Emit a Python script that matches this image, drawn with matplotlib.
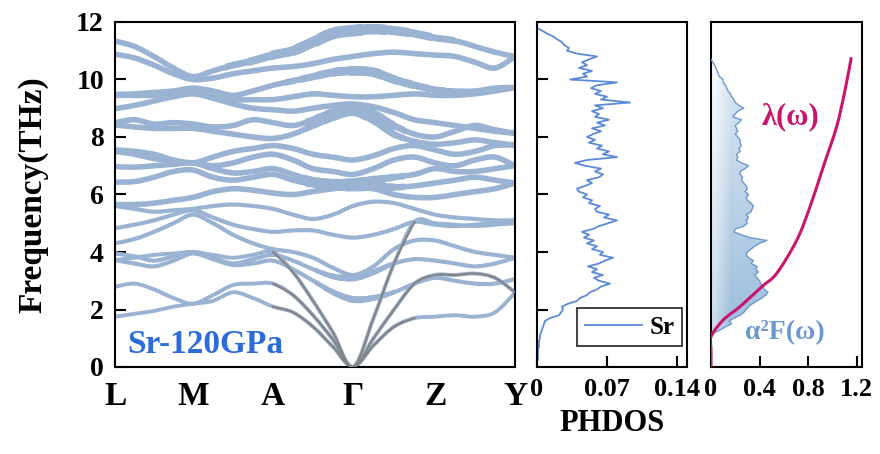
import numpy as np
import matplotlib
matplotlib.use("Agg")
import matplotlib.pyplot as plt
from matplotlib.path import Path
from matplotlib.patches import PathPatch, Polygon, Rectangle
from matplotlib.colors import LinearSegmentedColormap

plt.rcParams['font.family'] = ['Liberation Serif', 'DejaVu Serif']
plt.rcParams['font.weight'] = 'bold'
plt.rcParams['axes.labelweight'] = 'bold'

# ---------------- data ----------------
kpoint_labels = ['L', 'M', 'A', 'Γ', 'Z', 'Y']
kpoint_pos = [0.0, 0.78, 1.58, 2.38, 3.20, 4.00]

# phonon branches (THz), 5 samples per path segment, L -> M -> A -> Γ -> Z -> Y
band_01 = [11.34, 11.15, 10.8, 10.4, 10.1, 10.3, 10.5, 10.65, 10.85, 11.0, 11.3, 11.6, 11.7, 11.75, 11.7, 11.6, 11.45, 11.35, 11.15, 10.95, 10.8]
band_02 = [10.88, 10.75, 10.5, 10.2, 10.0, 10.05, 10.2, 10.3, 10.4, 10.45, 10.55, 10.7, 10.8, 10.9, 10.95, 10.9, 10.85, 10.8, 10.6, 10.4, 10.8]
band_03 = [9.48, 9.5, 9.55, 9.6, 9.7, 9.6, 9.45, 9.6, 9.8, 9.95, 10.1, 10.25, 10.3, 10.25, 10.0, 9.8, 9.65, 9.6, 9.6, 9.7, 9.72]
band_04 = [9.45, 9.45, 9.45, 9.5, 9.55, 9.4, 9.3, 9.3, 9.3, 9.4, 9.5, 9.45, 9.4, 9.4, 9.45, 9.5, 9.45, 9.45, 9.5, 9.6, 9.72]
band_05 = [8.98, 9.1, 9.25, 9.4, 9.5, 9.35, 9.15, 9.0, 8.95, 8.9, 9.0, 9.1, 9.15, 9.05, 8.85, 8.6, 8.5, 8.4, 8.3, 8.2, 8.13]
band_06 = [8.5, 8.6, 8.45, 8.5, 8.45, 8.35, 8.4, 8.6, 8.5, 8.4, 8.6, 8.85, 9.0, 8.8, 8.4, 8.1, 8.0, 8.2, 8.4, 8.25, 8.13]
band_07 = [8.42, 8.35, 8.3, 8.3, 8.3, 8.2, 8.1, 8.0, 7.95, 8.1, 8.4, 8.7, 8.9, 8.6, 8.1, 7.85, 7.75, 7.8, 7.9, 7.8, 7.72]
band_08 = [7.55, 7.5, 7.4, 7.2, 7.1, 7.3, 7.5, 7.6, 7.7, 7.6, 7.4, 7.3, 7.2, 7.35, 7.6, 7.7, 7.55, 7.4, 7.5, 7.7, 7.72]
band_09 = [7.5, 7.4, 7.25, 7.15, 7.1, 7.0, 7.1, 7.3, 7.4, 7.2, 6.9, 6.8, 6.7, 6.9, 7.2, 7.3, 7.1, 7.0, 7.2, 7.3, 7.0]
band_10 = [6.97, 6.95, 7.0, 7.05, 7.1, 6.9, 6.75, 6.8, 6.9, 6.7, 6.5, 6.4, 6.4, 6.5, 6.6, 6.7, 6.9, 6.8, 6.8, 6.9, 7.0]
band_11 = [6.43, 6.45, 6.6, 6.8, 6.85, 6.6, 6.5, 6.6, 6.7, 6.5, 6.35, 6.3, 6.3, 6.3, 6.25, 6.3, 6.4, 6.5, 6.6, 6.5, 6.4]
band_12 = [5.65, 5.65, 5.7, 5.8, 5.9, 6.1, 6.2, 6.15, 6.05, 6.0, 6.1, 6.2, 6.25, 6.2, 6.0, 5.9, 5.9, 6.0, 6.1, 6.2, 6.4]
band_13 = [5.6, 5.5, 5.4, 5.45, 5.5, 5.6, 5.65, 5.6, 5.5, 5.3, 5.15, 5.3, 5.6, 5.75, 5.7, 5.5, 5.3, 5.2, 5.15, 5.1, 5.1]
band_14 = [4.83, 4.95, 5.1, 5.3, 5.45, 5.2, 4.95, 4.8, 4.7, 4.75, 4.75, 4.6, 4.5, 4.6, 4.8, 5.05, 4.95, 4.9, 4.95, 5.0, 5.05]
band_15 = [4.3, 4.45, 4.7, 5.0, 5.3, 5.0, 4.6, 4.3, 4.1, 4.0, 3.8, 3.45, 3.2, 3.5, 4.1, 4.4, 4.4, 4.2, 4.0, 3.9, 3.8]
band_16 = [3.95, 3.85, 3.7, 3.85, 4.0, 3.8, 3.6, 3.75, 3.9, 3.7, 3.4, 3.15, 3.1, 3.3, 3.6, 3.75, 3.7, 3.6, 3.5, 3.6, 3.8]
band_17 = [3.72, 3.6, 3.5, 3.7, 3.95, 3.75, 3.55, 3.6, 3.7, 3.4, 3.0, 2.6, 2.35, 2.4, 2.6, 2.9, 3.1, 3.0, 2.9, 2.9, 3.06]
acoustic_1 = [3.72, 3.8, 3.9, 3.95, 4.0, 3.9, 3.8, 3.9, 4.0, 3.3, 2.3, 1.2, 0.0, 1.7, 3.6, 5.05, 5.0, 4.95, 4.9, 4.95, 5.0]
acoustic_2 = [2.79, 2.9, 2.7, 2.4, 2.2, 2.5, 2.85, 2.9, 2.9, 2.5, 1.8, 0.95, 0.0, 1.0, 2.0, 2.9, 3.2, 3.2, 3.25, 3.1, 2.6]
acoustic_3 = [1.75, 1.85, 1.95, 2.1, 2.2, 2.3, 2.6, 2.4, 2.1, 1.9, 1.4, 0.7, 0.0, 0.75, 1.4, 1.7, 1.75, 1.8, 1.75, 1.9, 2.58]

# Sr projected phonon DOS
phdos_freq = [round(0.1 * i, 1) for i in range(119)]
phdos_sr = [0.000, 0.000, 0.000, 0.001, 0.001, 0.001, 0.001, 0.002, 0.002, 0.002,
            0.003, 0.003, 0.004, 0.005, 0.006, 0.007, 0.008, 0.013, 0.022, 0.024,
            0.026, 0.025, 0.031, 0.040, 0.043, 0.050, 0.053, 0.060, 0.064, 0.073,
            0.062, 0.057, 0.066, 0.055, 0.060, 0.051, 0.062, 0.068, 0.076, 0.063,
            0.066, 0.055, 0.060, 0.050, 0.057, 0.047, 0.052, 0.045, 0.056, 0.062,
            0.071, 0.080, 0.067, 0.072, 0.060, 0.058, 0.063, 0.052, 0.055, 0.046,
            0.050, 0.042, 0.040, 0.048, 0.055, 0.050, 0.062, 0.066, 0.058, 0.064,
            0.048, 0.038, 0.050, 0.080, 0.066, 0.072, 0.060, 0.065, 0.052, 0.058,
            0.050, 0.056, 0.064, 0.055, 0.068, 0.060, 0.072, 0.058, 0.062, 0.055,
            0.066, 0.058, 0.093, 0.064, 0.070, 0.058, 0.064, 0.054, 0.060, 0.080,
            0.033, 0.050, 0.046, 0.055, 0.042, 0.050, 0.045, 0.052, 0.060, 0.040,
            0.030, 0.032, 0.027, 0.025, 0.020, 0.016, 0.010, 0.005, 0.000]

# Eliashberg spectral function and cumulative coupling
a2f_freq = [round(1.0 + 0.1 * i, 1) for i in range(98)]
a2f_val = [0.00, 0.01, 0.03, 0.08, 0.12, 0.17, 0.15, 0.19, 0.24, 0.27,
           0.29, 0.31, 0.34, 0.38, 0.42, 0.45, 0.47, 0.44, 0.43, 0.41,
           0.40, 0.38, 0.36, 0.39, 0.37, 0.38, 0.33, 0.35, 0.31, 0.29,
           0.30, 0.33, 0.36, 0.40, 0.46, 0.32, 0.25, 0.19, 0.20, 0.27,
           0.30, 0.29, 0.31, 0.29, 0.33, 0.34, 0.35, 0.33, 0.30, 0.29,
           0.31, 0.28, 0.30, 0.29, 0.27, 0.25, 0.26, 0.24, 0.24, 0.28,
           0.31, 0.25, 0.21, 0.22, 0.21, 0.24, 0.23, 0.25, 0.24, 0.24,
           0.22, 0.20, 0.22, 0.21, 0.20, 0.23, 0.25, 0.18, 0.20, 0.22,
           0.27, 0.23, 0.20, 0.19, 0.17, 0.16, 0.14, 0.13, 0.12, 0.10,
           0.10, 0.07, 0.06, 0.05, 0.04, 0.03, 0.015, 0.0]
lambda_freq = [0.0, 0.6, 1.06, 1.64, 2.1, 2.79, 3.26, 4.41, 5.58, 6.97, 8.36, 9.63, 10.73]
lambda_val = [0.0, 0.0, 0.0, 0.102, 0.239, 0.418, 0.542, 0.707, 0.817, 0.926, 1.036, 1.105, 1.155]

# ---------------- style ----------------
BAND_BLUE = '#9ab3d3'
ACOUSTIC_GRAY = '#858585'
PHDOS_BLUE = '#5b8ad6'
LAMBDA_RED = '#c9156d'
A2F_BLUE = '#6c98cf'
LABEL_BLUE = '#2c6bd8'


def smooth_path(x, y):
    """Catmull-Rom curve through the samples, as cubic Bezier segments."""
    pts = np.column_stack([x, y]).astype(float)
    verts = [pts[0]]
    codes = [Path.MOVETO]
    n = len(pts)
    for i in range(n - 1):
        p0 = pts[i - 1] if i > 0 else pts[i]
        p1 = pts[i]
        p2 = pts[i + 1]
        p3 = pts[i + 2] if i + 2 < n else pts[i + 1]
        verts += [p1 + (p2 - p0) / 6.0, p2 - (p3 - p1) / 6.0, p2]
        codes += [Path.CURVE4] * 3
    return Path(verts, codes)


def draw_curve(ax, x, y, color, lw, z=2, capstyle='round'):
    patch = PathPatch(smooth_path(x, y), facecolor='none', edgecolor=color,
                      lw=lw, capstyle=capstyle, joinstyle='round', zorder=z)
    ax.add_patch(patch)
    return patch


def draw_weight(ax, x, y, k0, k1, base, extra, z=2, steps=5):
    """Widen a branch between k0 and k1, tapering towards both ends."""
    half = 0.5 * (k1 - k0)
    for s in range(1, steps + 1):
        shrink = half * (s - 1) / steps
        patch = draw_curve(ax, x, y, BAND_BLUE, base + extra * s / steps, z, capstyle='butt')
        box = Rectangle((k0 + shrink, -5), (k1 - k0) - 2 * shrink, 30, transform=ax.transData)
        patch.set_clip_path(box)


kgrid = np.concatenate([np.linspace(kpoint_pos[i], kpoint_pos[i + 1], 5)[(0 if i == 0 else 1):]
                        for i in range(len(kpoint_pos) - 1)])

fig = plt.figure(figsize=(8.8, 4.54), dpi=100)
ax1 = fig.add_axes([115 / 880, 1 - 367 / 454, 400 / 880, 345 / 454])
ax2 = fig.add_axes([537 / 880, 1 - 367 / 454, 150 / 880, 345 / 454])
ax3 = fig.add_axes([711 / 880, 1 - 367 / 454, 151 / 880, 345 / 454])

# ---------------- band structure ----------------
optical = [band_01, band_02, band_03, band_04, band_05, band_06, band_07, band_08,
           band_09, band_10, band_11, band_12, band_13, band_14, band_15, band_16, band_17]
for b in optical:
    lw = 4.0 if np.mean(b) > 6 else 3.0
    draw_curve(ax1, kgrid, b, BAND_BLUE, lw)

# heavier projected weight near the zone centre
draw_weight(ax1, kgrid, band_01, 1.1, 3.4, 4.0, 4.5)
draw_weight(ax1, kgrid, band_03, 1.7, 3.3, 4.0, 3.0)
draw_weight(ax1, kgrid, band_06, 1.9, 2.9, 4.0, 4.0)
draw_weight(ax1, kgrid, band_07, 1.9, 2.9, 4.0, 3.0)
draw_weight(ax1, kgrid, band_11, 1.9, 2.9, 4.0, 4.0)
draw_weight(ax1, kgrid, band_10, 1.9, 2.9, 4.0, 3.0)
draw_weight(ax1, kgrid, band_16, 2.0, 2.8, 3.0, 2.0)
draw_weight(ax1, kgrid, band_17, 2.0, 2.8, 3.0, 2.0)

gray_spans = [(8, 15), (8, 20), (8, 15)]
for b, (s, e) in zip([acoustic_1, acoustic_2, acoustic_3], gray_spans):
    draw_curve(ax1, kgrid, b, BAND_BLUE, 2.8)
    draw_curve(ax1, kgrid[s:e + 1], b[s:e + 1], ACOUSTIC_GRAY, 1.6, z=3)

ax1.set_xlim(kpoint_pos[0], kpoint_pos[-1])
ax1.set_ylim(0, 12)
ax1.set_xticks(kpoint_pos)
ax1.set_xticklabels(kpoint_labels, fontsize=24)
ax1.tick_params(axis='x', length=0, pad=10)
ax1.set_yticks([0, 2, 4, 6, 8, 10, 12])
ax1.tick_params(axis='y', direction='in', length=8, width=1.5, labelsize=20, pad=8)
ax1.set_ylabel('Frequency(THz)', fontsize=24, labelpad=20)
ax1.text(0.12, 0.77, 'Sr-120GPa', color=LABEL_BLUE, fontsize=24, va='center', ha='left')

# ---------------- PHDOS ----------------
ax2.plot(phdos_sr, phdos_freq, color=PHDOS_BLUE, lw=1.3, label='Sr')
ax2.set_xlim(0, 0.15)
ax2.set_ylim(0, 12)
ax2.set_xticks([0, 0.07, 0.14])
ax2.set_xticklabels(['0', '0.07', '0.14'])
ax2.set_yticks([2, 4, 6, 8, 10])
ax2.set_yticklabels([])
ax2.tick_params(axis='both', direction='in', length=8, width=1.5, labelsize=19)
ax2.tick_params(axis='x', pad=8)
ax2.set_xlabel('PHDOS', fontsize=22, labelpad=6)
leg = ax2.legend(loc='lower right', fontsize=18, frameon=True, fancybox=False,
                 handlelength=2.3, borderpad=0.3, handletextpad=0.3,
                 borderaxespad=0.2, bbox_to_anchor=(1.0, 0.045))
leg.get_frame().set_edgecolor('black')
leg.get_frame().set_linewidth(1.3)

# ---------------- Eliashberg ----------------
verts = list(zip(a2f_val, a2f_freq)) + [(0, a2f_freq[-1]), (0, a2f_freq[0])]
clip = Polygon(verts, closed=True, facecolor='none', edgecolor='none', transform=ax3.transData)
ax3.add_patch(clip)
gx, gy = np.meshgrid(np.linspace(0, 1, 128), np.linspace(0, 1, 256))
shade = np.clip(0.6 * (1 - gy) + 0.4 * np.minimum(gx * 3.0, 1.0), 0, 1)
cmap = LinearSegmentedColormap.from_list('fill', ['#ffffff', '#d3e2ef', '#94b8d8'])
img = ax3.imshow(shade, extent=[0, 0.5, 0, 11], aspect='auto', cmap=cmap,
                 origin='lower', vmin=0, vmax=1, zorder=1)
img.set_clip_path(clip)
ax3.plot(a2f_val, a2f_freq, color=A2F_BLUE, lw=1.0, zorder=3)
draw_curve(ax3, lambda_val, lambda_freq, LAMBDA_RED, 2.2, z=4)
ax3.set_xlim(0, 1.245)
ax3.set_ylim(0, 12)
ax3.set_xticks([0, 0.4, 0.8, 1.2])
ax3.set_xticklabels(['0', '0.4', '0.8', '1.2'])
ax3.set_yticks([])
ax3.tick_params(axis='x', direction='in', length=8, width=1.5, labelsize=19, pad=8)
ax3.text(0.42, 8.7, 'λ(ω)', color=LAMBDA_RED, fontsize=22, va='center', ha='left')
ax3.text(0.28, 1.18, 'α²F(ω)', color=A2F_BLUE, fontsize=20, va='center', ha='left')

for ax in (ax1, ax2, ax3):
    for sp in ax.spines.values():
        sp.set_linewidth(1.5)

fig.savefig('out.png', dpi=100)
